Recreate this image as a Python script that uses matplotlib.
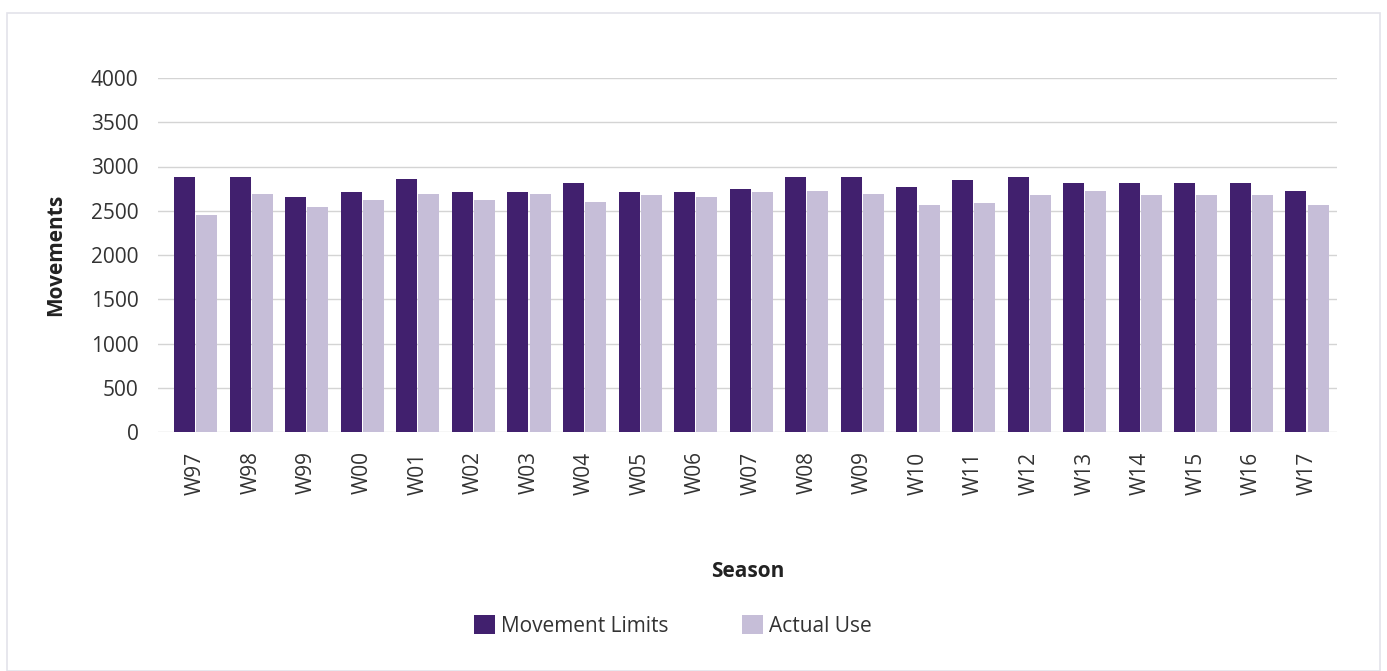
import matplotlib.pyplot as plt
import numpy as np
from matplotlib.patches import Rectangle

plt.rcParams['font.family'] = ['Open Sans', 'DejaVu Sans']

seasons = ['W97', 'W98', 'W99', 'W00', 'W01', 'W02', 'W03', 'W04', 'W05', 'W06', 'W07',
           'W08', 'W09', 'W10', 'W11', 'W12', 'W13', 'W14', 'W15', 'W16', 'W17']
movement_limits = [2880, 2880, 2660, 2710, 2860, 2710, 2710, 2810, 2710, 2710, 2745,
                   2880, 2880, 2765, 2845, 2880, 2810, 2810, 2810, 2810, 2720]
actual_use = [2450, 2690, 2540, 2620, 2690, 2620, 2690, 2600, 2675, 2660, 2710,
              2720, 2690, 2570, 2585, 2675, 2720, 2675, 2675, 2675, 2570]

dark = '#41206e'
light = '#c6bed8'

fig = plt.figure(figsize=(13.87, 6.71), dpi=100)
ax = fig.add_axes([158 / 1387, 1 - 432 / 671, (1337 - 158) / 1387, (432 - 78) / 671])

# light frame around the whole chart
fig.patches.append(Rectangle((7 / 1387, 0), 1373 / 1387, 1 - 13 / 671, transform=fig.transFigure,
                             fill=False, edgecolor='#e3e3ea', linewidth=1.2))

x = np.arange(len(seasons))
w = 0.378
ax.bar(x - w / 2 - 0.01, movement_limits, w, color=dark, label='Movement Limits', zorder=3)
ax.bar(x + w / 2 + 0.01, actual_use, w, color=light, label='Actual Use', zorder=3)

ax.set_xlim(-0.675, len(seasons) - 0.46)
ax.set_ylim(0, 4000)
ax.set_yticks(range(0, 4001, 500))
ax.set_xticks(x)
ax.set_xticklabels(seasons, rotation=90)
ax.tick_params(axis='both', length=0, labelsize=15, colors='#333333')
ax.tick_params(axis='x', pad=14)
ax.tick_params(axis='y', pad=14)
ax.grid(axis='y', color='#d4d4d4', linewidth=1, zorder=0)
for s in ax.spines.values():
    s.set_visible(False)

ax.set_ylabel('Movements', fontsize=15, fontweight='bold', color='#222222', labelpad=18)
ax.set_xlabel('Season', fontsize=15, fontweight='bold', color='#222222', labelpad=48)

fig.legend(loc='center', bbox_to_anchor=(673 / 1387, 1 - 626 / 671), ncol=2, frameon=False,
           fontsize=15, handlelength=1.0, handleheight=1.0, columnspacing=3.5, handletextpad=0.3,
           labelcolor='#333333')

fig.savefig('out.png', dpi=100)
